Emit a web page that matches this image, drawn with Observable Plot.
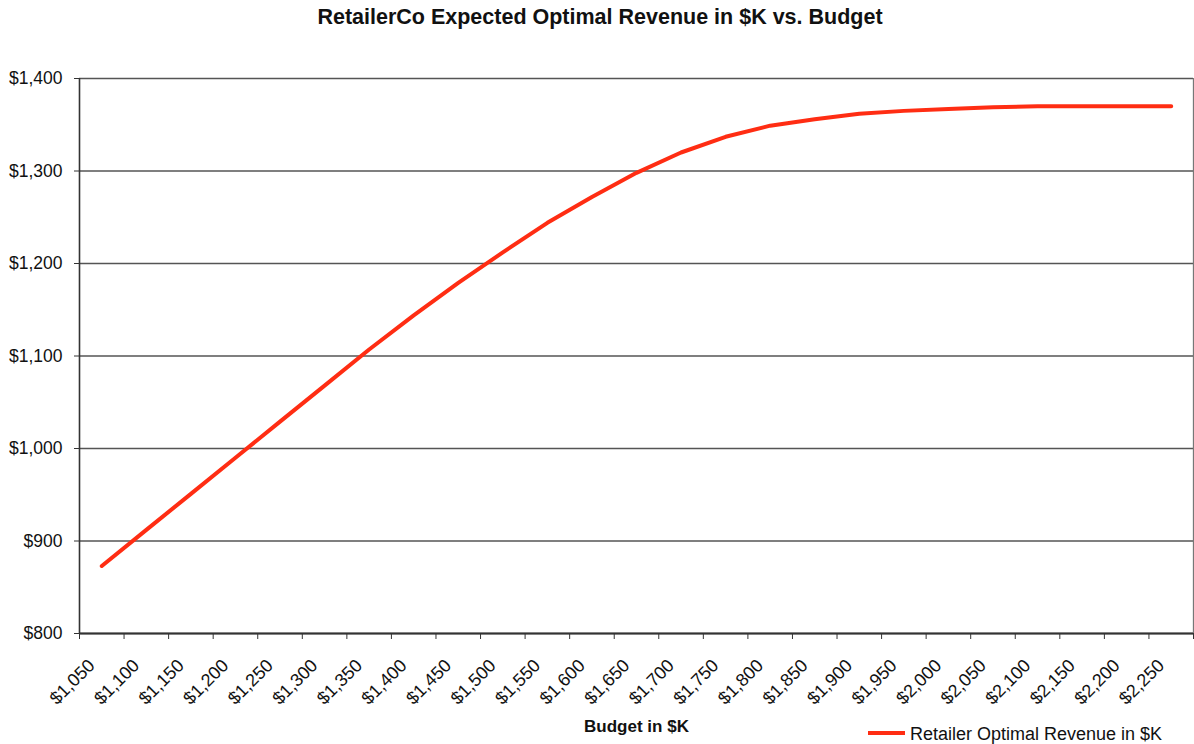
<!DOCTYPE html>
<html>
<head>
<meta charset="utf-8">
<script src="https://cdn.jsdelivr.net/npm/d3@7"></script>
<script src="https://cdn.jsdelivr.net/npm/@observablehq/plot@0.6"></script>
<style>
  html, body { margin: 0; padding: 0; background: #fff; }
  #wrap { position: relative; width: 1194px; height: 744px; font-family: "Liberation Sans", Arial, sans-serif; color: #111; }
  #title { height: 36px; line-height: 34px; text-align: center; font-weight: bold; font-size: 21.5px; padding-left: 6px; }
  #legend { position: absolute; left: 868px; top: 724px; font-size: 18px; white-space: nowrap; }
  #legend .swatch { display: inline-block; width: 37px; height: 4px; background: #ff2d13; vertical-align: middle; margin-right: 5px; position: relative; top: -2px; }
</style>
</head>
<body>
<div id="wrap">
  <div id="title">RetailerCo Expected Optimal Revenue in $K vs. Budget</div>
  <div id="chart"></div>
  <div id="legend"><span class="swatch"></span>Retailer Optimal Revenue in $K</div>
</div>
<script>
// Budget levels ($K) on the category axis
const budgets = [1050, 1100, 1150, 1200, 1250, 1300, 1350, 1400, 1450, 1500, 1550, 1600, 1650,
                 1700, 1750, 1800, 1850, 1900, 1950, 2000, 2050, 2100, 2150, 2200, 2250];
// Expected optimal revenue ($K) at each budget level
const revenue = [873, 912, 951, 990, 1029, 1068, 1107, 1144, 1179, 1212, 1244, 1272, 1298,
                 1320, 1337, 1349, 1356, 1362, 1365, 1367, 1369, 1370, 1370, 1370, 1370];
// Value axis ticks ($K)
const revenueTicks = [800, 900, 1000, 1100, 1200, 1300, 1400];

const xTitle = "Budget in $K";

const data = budgets.map((b, i) => ({budget: b, revenue: revenue[i]}));
const half = (budgets[1] - budgets[0]) / 2;
const xDomain = [budgets[0] - half, budgets[budgets.length - 1] + half];
// category boundaries carry the tick marks; labels sit on category centres
const boundaries = [xDomain[0], ...budgets.map(b => b + half)];
const money = d => "$" + d3.format(",")(d);

const chart = Plot.plot({
  width: 1194,
  height: 708,
  marginTop: 42,
  marginLeft: 79,
  marginRight: 1,
  marginBottom: 111,
  style: {fontFamily: "'Liberation Sans', Arial, sans-serif", fontSize: "17.5px", color: "#111", background: "#fff"},
  x: {type: "linear", domain: xDomain},
  y: {domain: [800, 1400]},
  marks: [
    Plot.gridY(revenueTicks, {stroke: "#555", strokeOpacity: 1, strokeWidth: 1.3}),
    Plot.ruleX([xDomain[1]], {stroke: "#777", strokeWidth: 1.3}),
    Plot.ruleX([xDomain[0]], {stroke: "#333", strokeWidth: 1.6}),
    Plot.ruleY([800], {stroke: "#333", strokeWidth: 2.2}),
    Plot.axisY(revenueTicks, {tickFormat: money, tickSize: 5, tickPadding: 12, stroke: "#333", label: null}),
    Plot.axisX(boundaries, {tickFormat: () => "", tickSize: 6, stroke: "#333", label: null}),
    Plot.axisX(budgets, {tickFormat: money, tickSize: 0, tickRotate: -45, tickPadding: 29, textAnchor: "end", dx: -10, fontSize: 18, label: null}),
    Plot.line(data, {x: "budget", y: "revenue", stroke: "#ff2d13", strokeWidth: 4, strokeLinejoin: "round", strokeLinecap: "round"}),
    Plot.text([xTitle], {frameAnchor: "bottom", dy: 98, fontWeight: "bold", fontSize: 17})
  ]
});
document.getElementById("chart").append(chart);
</script>
</body>
</html>
